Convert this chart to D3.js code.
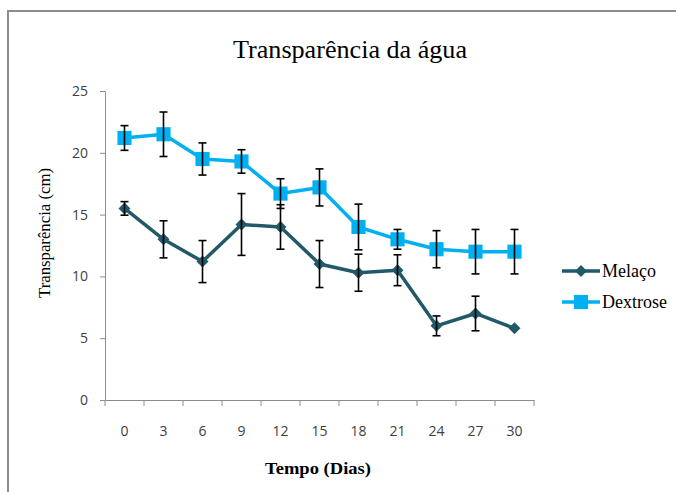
<!DOCTYPE html>
<html>
<head>
<meta charset="utf-8">
<script src="https://cdn.jsdelivr.net/npm/d3@7"></script>
<style>
  body { margin: 0; background: #fff; }
  svg { display: block; }
  .serif { font-family: "Liberation Serif", "Times New Roman", serif; }
</style>
</head>
<body>
<svg id="chart"></svg>
<script>
const dias = ['0', '3', '6', '9', '12', '15', '18', '21', '24', '27', '30'];
const melaco = [15.5, 13.0, 11.2, 14.2, 14.0, 11.0, 10.3, 10.5, 6.0, 7.0, 5.8];
const melaco_err = [0.55, 1.5, 1.7, 2.5, 1.8, 1.9, 1.5, 1.25, 0.8, 1.4, 0];
const dextrose = [21.2, 21.5, 19.5, 19.3, 16.7, 17.2, 14.0, 13.0, 12.2, 12.0, 12.0];
const dextrose_err = [1.0, 1.8, 1.3, 0.95, 1.2, 1.5, 1.85, 0.8, 1.5, 1.8, 1.8];
const y_ticks = [0, 5, 10, 15, 20, 25];

const width = 676, height = 492;
const svg = d3.select('#chart').attr('width', width).attr('height', height);

// chart frame (right/bottom edges fall outside the picture)
svg.append('rect')
  .attr('x', 8).attr('y', 11)
  .attr('width', 700).attr('height', 520)
  .attr('fill', 'none').attr('stroke', '#8c8c8c').attr('stroke-width', 2);

const x = d3.scaleBand().domain(dias).range([105, 534]);
const y = d3.scaleLinear().domain([0, 25]).range([400, 91]);

// y axis
const yAxis = svg.append('g').attr('transform', 'translate(105,0)')
  .call(d3.axisLeft(y).tickValues(y_ticks).tickSize(5).tickPadding(12));
yAxis.select('.domain').attr('stroke', '#8c8c8c');
yAxis.selectAll('.tick line').attr('stroke', '#8c8c8c');
yAxis.selectAll('text')
  .attr('font-family', 'Open Sans, sans-serif').attr('font-size', 14).attr('fill', '#404040');

// x axis: ticks on category boundaries
const xAxis = svg.append('g').attr('transform', 'translate(0,400)')
  .call(d3.axisBottom(x).tickSize(0).tickPadding(26));
xAxis.select('.domain').attr('stroke', '#8c8c8c');
xAxis.selectAll('text')
  .attr('font-family', 'Open Sans, sans-serif').attr('font-size', 14).attr('fill', '#404040');
const bounds = dias.map(d => x(d)).concat([x.range()[1]]);
xAxis.selectAll('.bound').data(bounds).join('line')
  .attr('class', 'bound')
  .attr('x1', d => d).attr('x2', d => d)
  .attr('y1', 0).attr('y2', 6)
  .attr('stroke', '#8c8c8c');

const cx = d => x(d) + x.bandwidth() / 2;

// title and axis labels
svg.append('text').attr('class', 'serif')
  .attr('x', 350).attr('y', 58)
  .attr('text-anchor', 'middle')
  .attr('font-size', 25)
  .attr('textLength', 234).attr('lengthAdjust', 'spacingAndGlyphs')
  .text('Transparência da água');

svg.append('text').attr('class', 'serif')
  .attr('x', 318).attr('y', 474)
  .attr('text-anchor', 'middle')
  .attr('font-size', 17).attr('font-weight', 'bold')
  .attr('textLength', 106).attr('lengthAdjust', 'spacingAndGlyphs')
  .text('Tempo (Dias)');

svg.append('text').attr('class', 'serif')
  .attr('transform', 'translate(50,233) rotate(-90)')
  .attr('text-anchor', 'middle')
  .attr('font-size', 17)
  .attr('textLength', 130).attr('lengthAdjust', 'spacingAndGlyphs')
  .text('Transparência (cm)');

// diamond = square turned 45 degrees
const series = [
  {name: 'Melaço', values: melaco, err: melaco_err, color: '#215968', size: 72, rot: 45},
  {name: 'Dextrose', values: dextrose, err: dextrose_err, color: '#00b0f0', size: 200, rot: 0}
];

series.forEach(s => {
  const pts = dias.map((d, i) => ({d: d, v: s.values[i], e: s.err[i]}));
  const line = d3.line().x(p => cx(p.d)).y(p => y(p.v));

  svg.append('path').datum(pts)
    .attr('d', line)
    .attr('fill', 'none').attr('stroke', s.color).attr('stroke-width', 3.5)
    .attr('stroke-linejoin', 'round');

  svg.append('g').selectAll('path').data(pts).join('path')
    .attr('transform', p => `translate(${cx(p.d)},${y(p.v)}) rotate(${s.rot})`)
    .attr('d', d3.symbol().type(d3.symbolSquare).size(s.size))
    .attr('fill', s.color);

  // error bars
  const eb = svg.append('g').selectAll('g').data(pts.filter(p => p.e > 0)).join('g')
    .attr('stroke', '#000').attr('stroke-width', 1.6);
  eb.append('line')
    .attr('x1', p => cx(p.d)).attr('x2', p => cx(p.d))
    .attr('y1', p => y(p.v + p.e)).attr('y2', p => y(p.v - p.e));
  eb.append('line')
    .attr('x1', p => cx(p.d) - 4).attr('x2', p => cx(p.d) + 4)
    .attr('y1', p => y(p.v + p.e)).attr('y2', p => y(p.v + p.e));
  eb.append('line')
    .attr('x1', p => cx(p.d) - 4).attr('x2', p => cx(p.d) + 4)
    .attr('y1', p => y(p.v - p.e)).attr('y2', p => y(p.v - p.e));
});

// legend
const legend = svg.append('g').selectAll('g').data(series).join('g')
  .attr('transform', (s, i) => `translate(562,${271 + i * 31})`);
legend.append('line')
  .attr('x1', 0).attr('x2', 38)
  .attr('stroke', s => s.color).attr('stroke-width', 3.5);
legend.append('path')
  .attr('transform', s => `translate(19,0) rotate(${s.rot})`)
  .attr('d', s => d3.symbol().type(d3.symbolSquare).size(s.size)())
  .attr('fill', s => s.color);
legend.append('text').attr('class', 'serif')
  .attr('x', 40).attr('y', 6)
  .attr('font-size', 18)
  .text(s => s.name);
</script>
</body>
</html>
